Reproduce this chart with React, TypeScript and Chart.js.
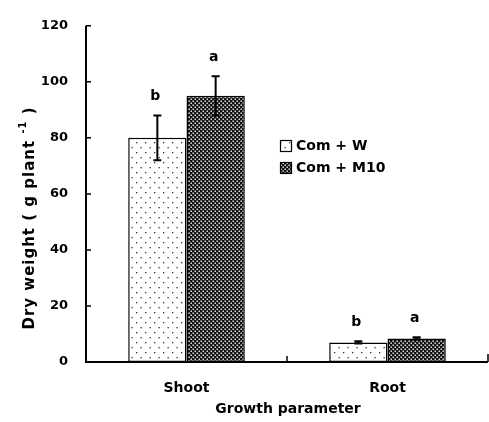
import React, { useEffect, useRef } from "react";
import { Chart, registerables } from "chart.js";

Chart.register(...registerables);

const categories = ["Shoot", "Root"];
const seriesLabels = ["Com + W", "Com + M10"];
const comW = [80, 7.0];
const comM10 = [95, 8.4];
const errW = [8, 0.4];
const errM10 = [7, 0.4];
const lettersW = ["b", "b"];
const lettersM10 = ["a", "a"];
const yTicks = [0, 20, 40, 60, 80, 100, 120];

const FONT = "'DejaVu Sans', 'Liberation Sans', Arial, sans-serif";

function makeDotPattern(): CanvasPattern | string {
  const c = document.createElement("canvas");
  c.width = 9;
  c.height = 10;
  const g = c.getContext("2d");
  if (!g) return "#fff";
  g.fillStyle = "#ffffff";
  g.fillRect(0, 0, 9, 10);
  g.fillStyle = "#333";
  g.fillRect(1, 2, 1.3, 1.3);
  g.fillRect(5.5, 7, 1.3, 1.3);
  const p = g.createPattern(c, "repeat");
  return p || "#fff";
}

function makeCrossPattern(): CanvasPattern | string {
  const c = document.createElement("canvas");
  c.width = 4;
  c.height = 4;
  const g = c.getContext("2d");
  if (!g) return "#111";
  g.fillStyle = "#111";
  g.fillRect(0, 0, 4, 4);
  g.fillStyle = "#ffffff";
  g.fillRect(0.5, 0.5, 1.4, 1.4);
  g.fillRect(2.5, 2.5, 1.4, 1.4);
  const p = g.createPattern(c, "repeat");
  return p || "#111";
}

export default function App() {
  const ref = useRef<HTMLCanvasElement | null>(null);

  useEffect(() => {
    document.body.style.margin = "0";
    const canvas = ref.current;
    if (!canvas) return;
    const dotP = makeDotPattern();
    const crossP = makeCrossPattern();
    const errs = [errW, errM10];
    const letters = [lettersW, lettersM10];
    const fills = [dotP, crossP];

    const overlay = {
      id: "overlay",
      afterDatasetsDraw(chart: any) {
        const ctx = chart.ctx as CanvasRenderingContext2D;
        const xs = chart.scales.x;
        const ys = chart.scales.y;
        const area = chart.chartArea;
        ctx.save();
        // error bars and letters
        chart.data.datasets.forEach((ds: any, di: number) => {
          const meta = chart.getDatasetMeta(di);
          meta.data.forEach((bar: any, i: number) => {
            const v = ds.data[i];
            const e = errs[di][i];
            const x = bar.x;
            const yTop = ys.getPixelForValue(v + e);
            const yBot = ys.getPixelForValue(v - e);
            ctx.strokeStyle = "#000";
            ctx.lineWidth = 2;
            ctx.beginPath();
            ctx.moveTo(x, yTop);
            ctx.lineTo(x, yBot);
            ctx.moveTo(x - 4, yTop);
            ctx.lineTo(x + 4, yTop);
            ctx.moveTo(x - 4, yBot);
            ctx.lineTo(x + 4, yBot);
            ctx.stroke();
            ctx.fillStyle = "#000";
            ctx.font = `bold 14px ${FONT}`;
            ctx.textAlign = "center";
            ctx.textBaseline = "middle";
            ctx.fillText(letters[di][i], x - 2, yTop - 19);
          });
        });
        // axes
        ctx.strokeStyle = "#000";
        ctx.lineWidth = 2;
        ctx.beginPath();
        ctx.moveTo(area.left, area.top);
        ctx.lineTo(area.left, area.bottom);
        ctx.lineTo(area.right, area.bottom);
        ctx.stroke();
        ctx.lineWidth = 1.5;
        ctx.beginPath();
        yTicks.forEach((t) => {
          const py = ys.getPixelForValue(t);
          ctx.moveTo(area.left, py);
          ctx.lineTo(area.left + 5, py);
        });
        const mid = (xs.getPixelForValue(0) + xs.getPixelForValue(1)) / 2;
        ctx.moveTo(mid, area.bottom);
        ctx.lineTo(mid, area.bottom - 6);
        ctx.moveTo(area.right, area.bottom);
        ctx.lineTo(area.right, area.bottom - 8);
        ctx.stroke();
        // legend
        ctx.font = `bold 14px ${FONT}`;
        ctx.textAlign = "left";
        ctx.textBaseline = "middle";
        seriesLabels.forEach((lab, i) => {
          const by = 140 + i * 22;
          ctx.fillStyle = fills[i] as any;
          ctx.fillRect(280, by, 11, 11);
          ctx.lineWidth = 1.2;
          ctx.strokeStyle = "#000";
          ctx.strokeRect(280.5, by + 0.5, 11, 11);
          ctx.fillStyle = "#000";
          ctx.fillText(lab, 296, by + 6);
        });
        // axis titles
        ctx.font = `bold 14px ${FONT}`;
        ctx.textAlign = "center";
        ctx.fillText("Growth parameter", (area.left + area.right) / 2 + 1, 409);
        ctx.translate(30, 218);
        ctx.rotate(-Math.PI / 2);
        (ctx as any).letterSpacing = "1px";
        const p1 = "Dry weight ( g plant ";
        const sup = "-1";
        const p2 = " )";
        ctx.font = `bold 15px ${FONT}`;
        const w1 = ctx.measureText(p1).width;
        const w3 = ctx.measureText(p2).width;
        ctx.font = `bold 10px ${FONT}`;
        const w2 = ctx.measureText(sup).width;
        const total = w1 + w2 + w3;
        let sx = -total / 2;
        ctx.textAlign = "left";
        ctx.font = `bold 15px ${FONT}`;
        ctx.fillText(p1, sx, 0);
        sx += w1;
        ctx.font = `bold 10px ${FONT}`;
        ctx.fillText(sup, sx, -7);
        sx += w2;
        ctx.font = `bold 15px ${FONT}`;
        ctx.fillText(p2, sx, 0);
        ctx.restore();
      },
    };

    const chart = new Chart(canvas, {
      type: "bar",
      data: {
        labels: categories,
        datasets: [
          {
            label: seriesLabels[0],
            data: comW,
            backgroundColor: dotP as any,
            borderColor: "#000",
            borderWidth: 1.5,
            borderSkipped: false,
          },
          {
            label: seriesLabels[1],
            data: comM10,
            backgroundColor: crossP as any,
            borderColor: "#000",
            borderWidth: 1.5,
            borderSkipped: false,
          },
        ],
      },
      options: {
        responsive: false,
        animation: false,
        layout: { padding: { top: 19, right: 1, left: 0, bottom: 0 } },
        plugins: {
          legend: { display: false },
          tooltip: { enabled: false },
        },
        datasets: {
          bar: { categoryPercentage: 0.58, barPercentage: 1 },
        },
        scales: {
          x: {
            type: "category",
            offset: true,
            grid: { display: false, drawTicks: false },
            border: { display: false },
            ticks: {
              color: "#000",
              padding: 18,
              font: { family: FONT, size: 14, weight: "bold" },
            },
            afterFit: (s: any) => {
              s.height = 60;
            },
          },
          y: {
            min: 0,
            max: 120,
            grid: { display: false, drawTicks: false },
            border: { display: false },
            ticks: {
              stepSize: 20,
              color: "#000",
              padding: 18,
              font: { family: FONT, size: 13, weight: "bold" },
            },
            afterFit: (s: any) => {
              s.width = 86;
            },
          },
        },
      },
      plugins: [overlay],
    } as any);

    return () => chart.destroy();
  }, []);

  return (
    <div style={{ width: 489, height: 422 }}>
      <canvas ref={ref} width={489} height={422} />
    </div>
  );
}
